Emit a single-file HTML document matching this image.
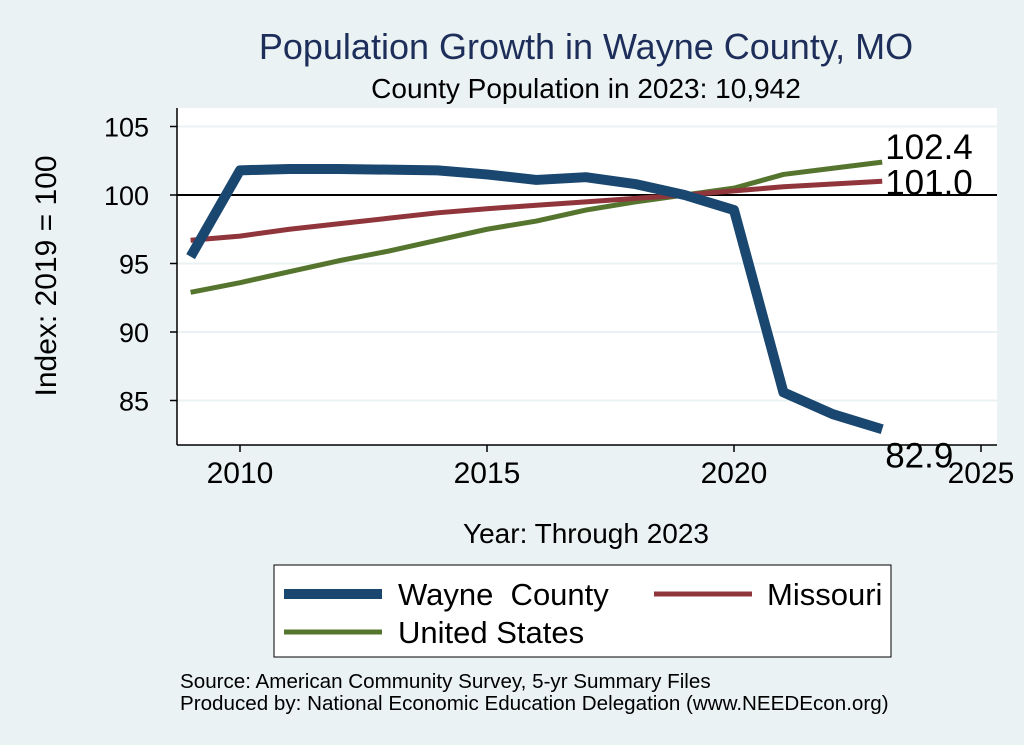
<!DOCTYPE html>
<html><head><meta charset="utf-8"><style>
body{margin:0;background:#eaf2f3;font-family:"Liberation Sans",sans-serif}
svg{display:block}
text{white-space:pre}
</style></head><body>
<svg width="1024" height="745" id="c">
<rect width="1024" height="745" fill="#eaf2f3"/>
<text x="586" y="59" font-size="36" fill="#1e2e5a" text-anchor="middle">Population Growth in Wayne County, MO</text>
<text x="586" y="98" font-size="28" fill="#000" text-anchor="middle">County Population in 2023: 10,942</text>
<rect x="177" y="108" width="820" height="337" fill="#fff"/>
<g id="grid"></g><g id="axes"></g><g id="lines"></g>
<text x="56" y="276" font-size="30" text-anchor="middle" transform="rotate(-90 56 276)">Index: 2019 = 100</text>
<text x="586" y="543" font-size="28" text-anchor="middle">Year: Through 2023</text>
<g>
<rect x="274" y="565" width="617" height="92" fill="#fff" stroke="#000" stroke-width="1"/>
<line x1="284" y1="594" x2="382" y2="594" stroke="#1a476f" stroke-width="10"/>
<text x="398" y="605" font-size="31" xml:space="preserve">Wayne  County</text>
<line x1="654" y1="594" x2="752" y2="594" stroke="#90353b" stroke-width="5"/>
<text x="767" y="605" font-size="31">Missouri</text>
<line x1="284" y1="632" x2="382" y2="632" stroke="#55752f" stroke-width="5"/>
<text x="398" y="643" font-size="31">United States</text>
</g>
<text x="180" y="688" font-size="20.6">Source: American Community Survey, 5-yr Summary Files</text>
<text x="180" y="710" font-size="20.6">Produced by: National Economic Education Delegation (www.NEEDEcon.org)</text>
</svg>
<script>
const years=[2009,2010,2011,2012,2013,2014,2015,2016,2017,2018,2019,2020,2021,2022,2023];
const wayne=[95.5,101.8,101.9,101.9,101.85,101.8,101.5,101.1,101.3,100.8,100,98.9,85.6,84.0,82.9];
const missouri=[96.7,97.0,97.5,97.9,98.3,98.7,99.0,99.25,99.5,99.75,100,100.3,100.6,100.8,101.0];
const us=[92.9,93.6,94.4,95.2,95.9,96.7,97.5,98.1,98.9,99.5,100,100.5,101.5,101.95,102.4];
const yTicks=[85,90,95,100,105];
const xTicks=[2010,2015,2020,2025];
const NS="http://www.w3.org/2000/svg";
const xs=v=>240+(v-2010)*49.4;
const ys=v=>195-(v-100)*13.7;
function mk(t,a,p){const e=document.createElementNS(NS,t);for(const k in a)e.setAttribute(k,a[k]);p.appendChild(e);return e;}
const grid=document.getElementById('grid'),axes=document.getElementById('axes'),lines=document.getElementById('lines');
yTicks.forEach(v=>{
 const g=mk('line',{x1:177,x2:997,y1:ys(v),y2:ys(v),stroke:'#eaf2f3','stroke-width':2},grid);
 
 
 mk('line',{x1:170,x2:177,y1:ys(v),y2:ys(v),stroke:'#000','stroke-width':1.5},axes);
 const t=mk('text',{x:149,y:ys(v)+10,'font-size':27,'text-anchor':'end'},axes);t.textContent=v;
 
 
});
xTicks.forEach(v=>{
 mk('line',{x1:xs(v),x2:xs(v),y1:445,y2:452,stroke:'#000','stroke-width':1.5},axes);
 const t=mk('text',{x:xs(v),y:483,'font-size':30,'text-anchor':'middle'},axes);t.textContent=v;
 
 
});
mk('line',{x1:177,x2:177,y1:108,y2:445,stroke:'#000','stroke-width':1.5},axes);
mk('line',{x1:177,x2:997,y1:445,y2:445,stroke:'#000','stroke-width':1.5},axes);
const ref=mk('line',{x1:177,x2:997,y1:ys(100),y2:ys(100),stroke:'#000','stroke-width':2},axes);


function series(d,c,w,name){
 const p=mk('polyline',{points:d.map((v,i)=>xs(years[i])+','+ys(v)).join(' '),fill:'none',stroke:c,'stroke-width':w,'stroke-linejoin':'round'},lines);
 
 
}
series(us,'#55752f',5,'line-united-states');
series(missouri,'#90353b',5,'line-missouri');
series(wayne,'#1a476f',10,'line-wayne-county');
function lab(d,dy,name){
 const v=d[d.length-1];
 const t=mk('text',{x:xs(2023)+3,y:ys(v)+dy,'font-size':35},lines);t.textContent=v.toFixed(1);
 
 
}
lab(us,-3,'label-us-end');lab(missouri,13,'label-missouri-end');lab(wayne,38,'label-wayne-end');
</script>
</body></html>
